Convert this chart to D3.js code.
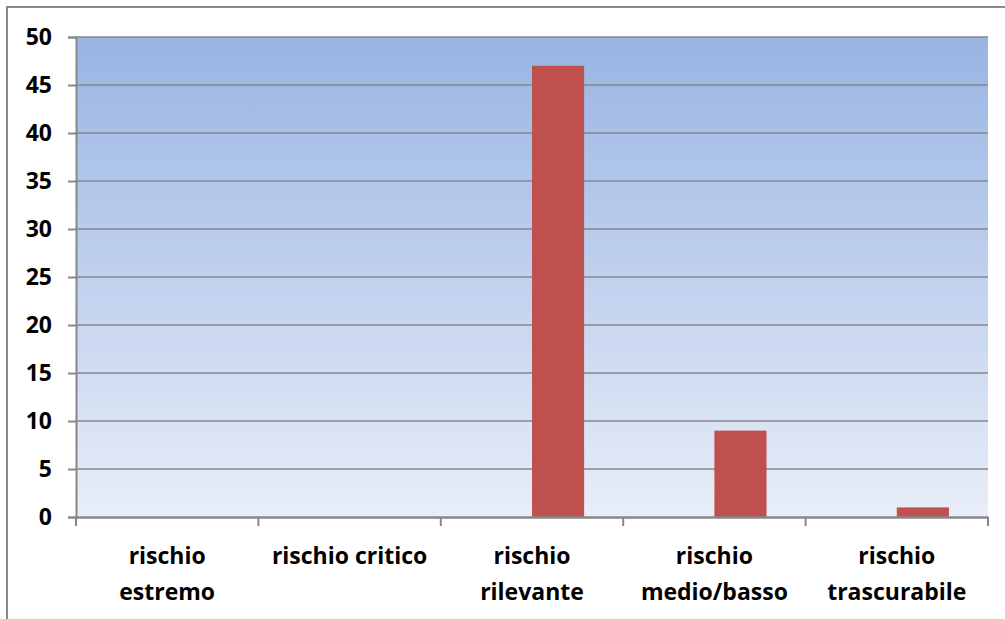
<!DOCTYPE html>
<html>
<head>
<meta charset="utf-8">
<script src="https://cdn.jsdelivr.net/npm/d3@7"></script>
<style>
  body { margin: 0; background: #fff; }
  svg { display: block; }
</style>
</head>
<body>
<svg id="chart"></svg>
<script>
// categories and the two series (the first one is empty in the original)
var categories = ["rischio estremo", "rischio critico", "rischio rilevante", "rischio medio/basso", "rischio trascurabile"];
var labelLines = [["rischio", "estremo"], ["rischio critico"], ["rischio", "rilevante"], ["rischio", "medio/basso"], ["rischio", "trascurabile"]];
var series1 = [0, 0, 0, 0, 0];
var series2 = [0, 0, 47, 9, 1];
var yTicks = [0, 5, 10, 15, 20, 25, 30, 35, 40, 45, 50];

var width = 1005,
    height = 619,
    margin = {top: 37, right: 17, bottom: 102, left: 76};

var svg = d3.select("#chart")
    .attr("width", width)
    .attr("height", height);

// outer frame (only top and left edges are visible)
svg.append("path")
    .attr("d", "M7,619V7H1005")
    .attr("fill", "none")
    .attr("stroke", "#8a8a8a")
    .attr("stroke-width", 2);

var defs = svg.append("defs");
var grad = defs.append("linearGradient")
    .attr("id", "bg")
    .attr("x1", 0).attr("y1", 0)
    .attr("x2", 0).attr("y2", 1);
grad.append("stop").attr("offset", "0%").attr("stop-color", "#99b4e3");
grad.append("stop").attr("offset", "100%").attr("stop-color", "#e8eef8");

var x0 = d3.scaleBand()
    .domain(categories)
    .range([margin.left, width - margin.right]);

// two bars per group, gap width 150%
var x1 = d3.scaleBand()
    .domain([0, 1])
    .range([x0.bandwidth() * 0.75 / 3.5, x0.bandwidth() * (1 - 0.75 / 3.5)]);

var y = d3.scaleLinear()
    .domain([0, 50])
    .range([height - margin.bottom, margin.top]);

svg.append("rect")
    .attr("x", margin.left)
    .attr("y", margin.top)
    .attr("width", width - margin.right - margin.left)
    .attr("height", y(0) - margin.top)
    .attr("fill", "url(#bg)");

// gridlines
svg.append("g")
    .selectAll("line")
    .data(yTicks.slice(1))
    .enter().append("line")
    .attr("x1", margin.left)
    .attr("x2", width - margin.right)
    .attr("y1", function(d) { return y(d); })
    .attr("y2", function(d) { return y(d); })
    .attr("stroke", "#878787")
    .attr("stroke-width", 1.6);

// bars
var rows = categories.map(function(c, i) { return {cat: c, vals: [series1[i], series2[i]]}; });
var groups = svg.append("g").selectAll("g")
    .data(rows)
    .enter().append("g")
    .attr("transform", function(d) { return "translate(" + x0(d.cat) + ",0)"; });

groups.selectAll("rect")
    .data(function(d) { return d.vals.map(function(v, k) { return {k: k, v: v}; }); })
    .enter().append("rect")
    .filter(function(d) { return d.v > 0; })
    .attr("x", function(d) { return x1(d.k); })
    .attr("width", x1.bandwidth())
    .attr("y", function(d) { return y(d.v); })
    .attr("height", function(d) { return y(0) - y(d.v); })
    .attr("fill", "#c0504d");

// y axis
var yAxis = svg.append("g")
    .attr("transform", "translate(" + margin.left + ",0)")
    .call(d3.axisLeft(y).tickValues(yTicks).tickSize(8).tickPadding(16));
yAxis.select(".domain").attr("stroke", "#878787").attr("stroke-width", 2);
yAxis.selectAll(".tick line").attr("stroke", "#878787").attr("stroke-width", 2);
yAxis.selectAll("text")
    .attr("fill", "#000")
    .style("font-family", "'Open Sans', sans-serif")
    .style("font-weight", "bold")
    .style("font-size", "23px");

// x axis
var xAxis = svg.append("g")
    .attr("transform", "translate(0," + y(0) + ")")
    .call(d3.axisBottom(x0).tickValues([]).tickSizeOuter(0));
xAxis.select(".domain").attr("stroke", "#878787").attr("stroke-width", 2.4);

var edges = categories.map(function(c) { return x0(c); }).concat([width - margin.right]);
xAxis.selectAll(".edge")
    .data(edges)
    .enter().append("line")
    .attr("class", "edge")
    .attr("x1", function(d) { return d; })
    .attr("x2", function(d) { return d; })
    .attr("y1", 0)
    .attr("y2", 9)
    .attr("stroke", "#878787")
    .attr("stroke-width", 2);

var labels = svg.append("g").selectAll("text")
    .data(categories)
    .enter().append("text")
    .attr("x", function(d) { return x0(d) + x0.bandwidth() / 2; })
    .attr("y", 564)
    .attr("text-anchor", "middle")
    .style("font-family", "'Open Sans', sans-serif")
    .style("font-weight", "bold")
    .style("font-size", "23px")
    .attr("fill", "#000");

labels.selectAll("tspan")
    .data(function(d, i) { return labelLines[i]; })
    .enter().append("tspan")
    .attr("x", function() { return d3.select(this.parentNode).attr("x"); })
    .attr("dy", function(d, i) { return i === 0 ? 0 : 36; })
    .text(function(d) { return d; });
</script>
</body>
</html>
